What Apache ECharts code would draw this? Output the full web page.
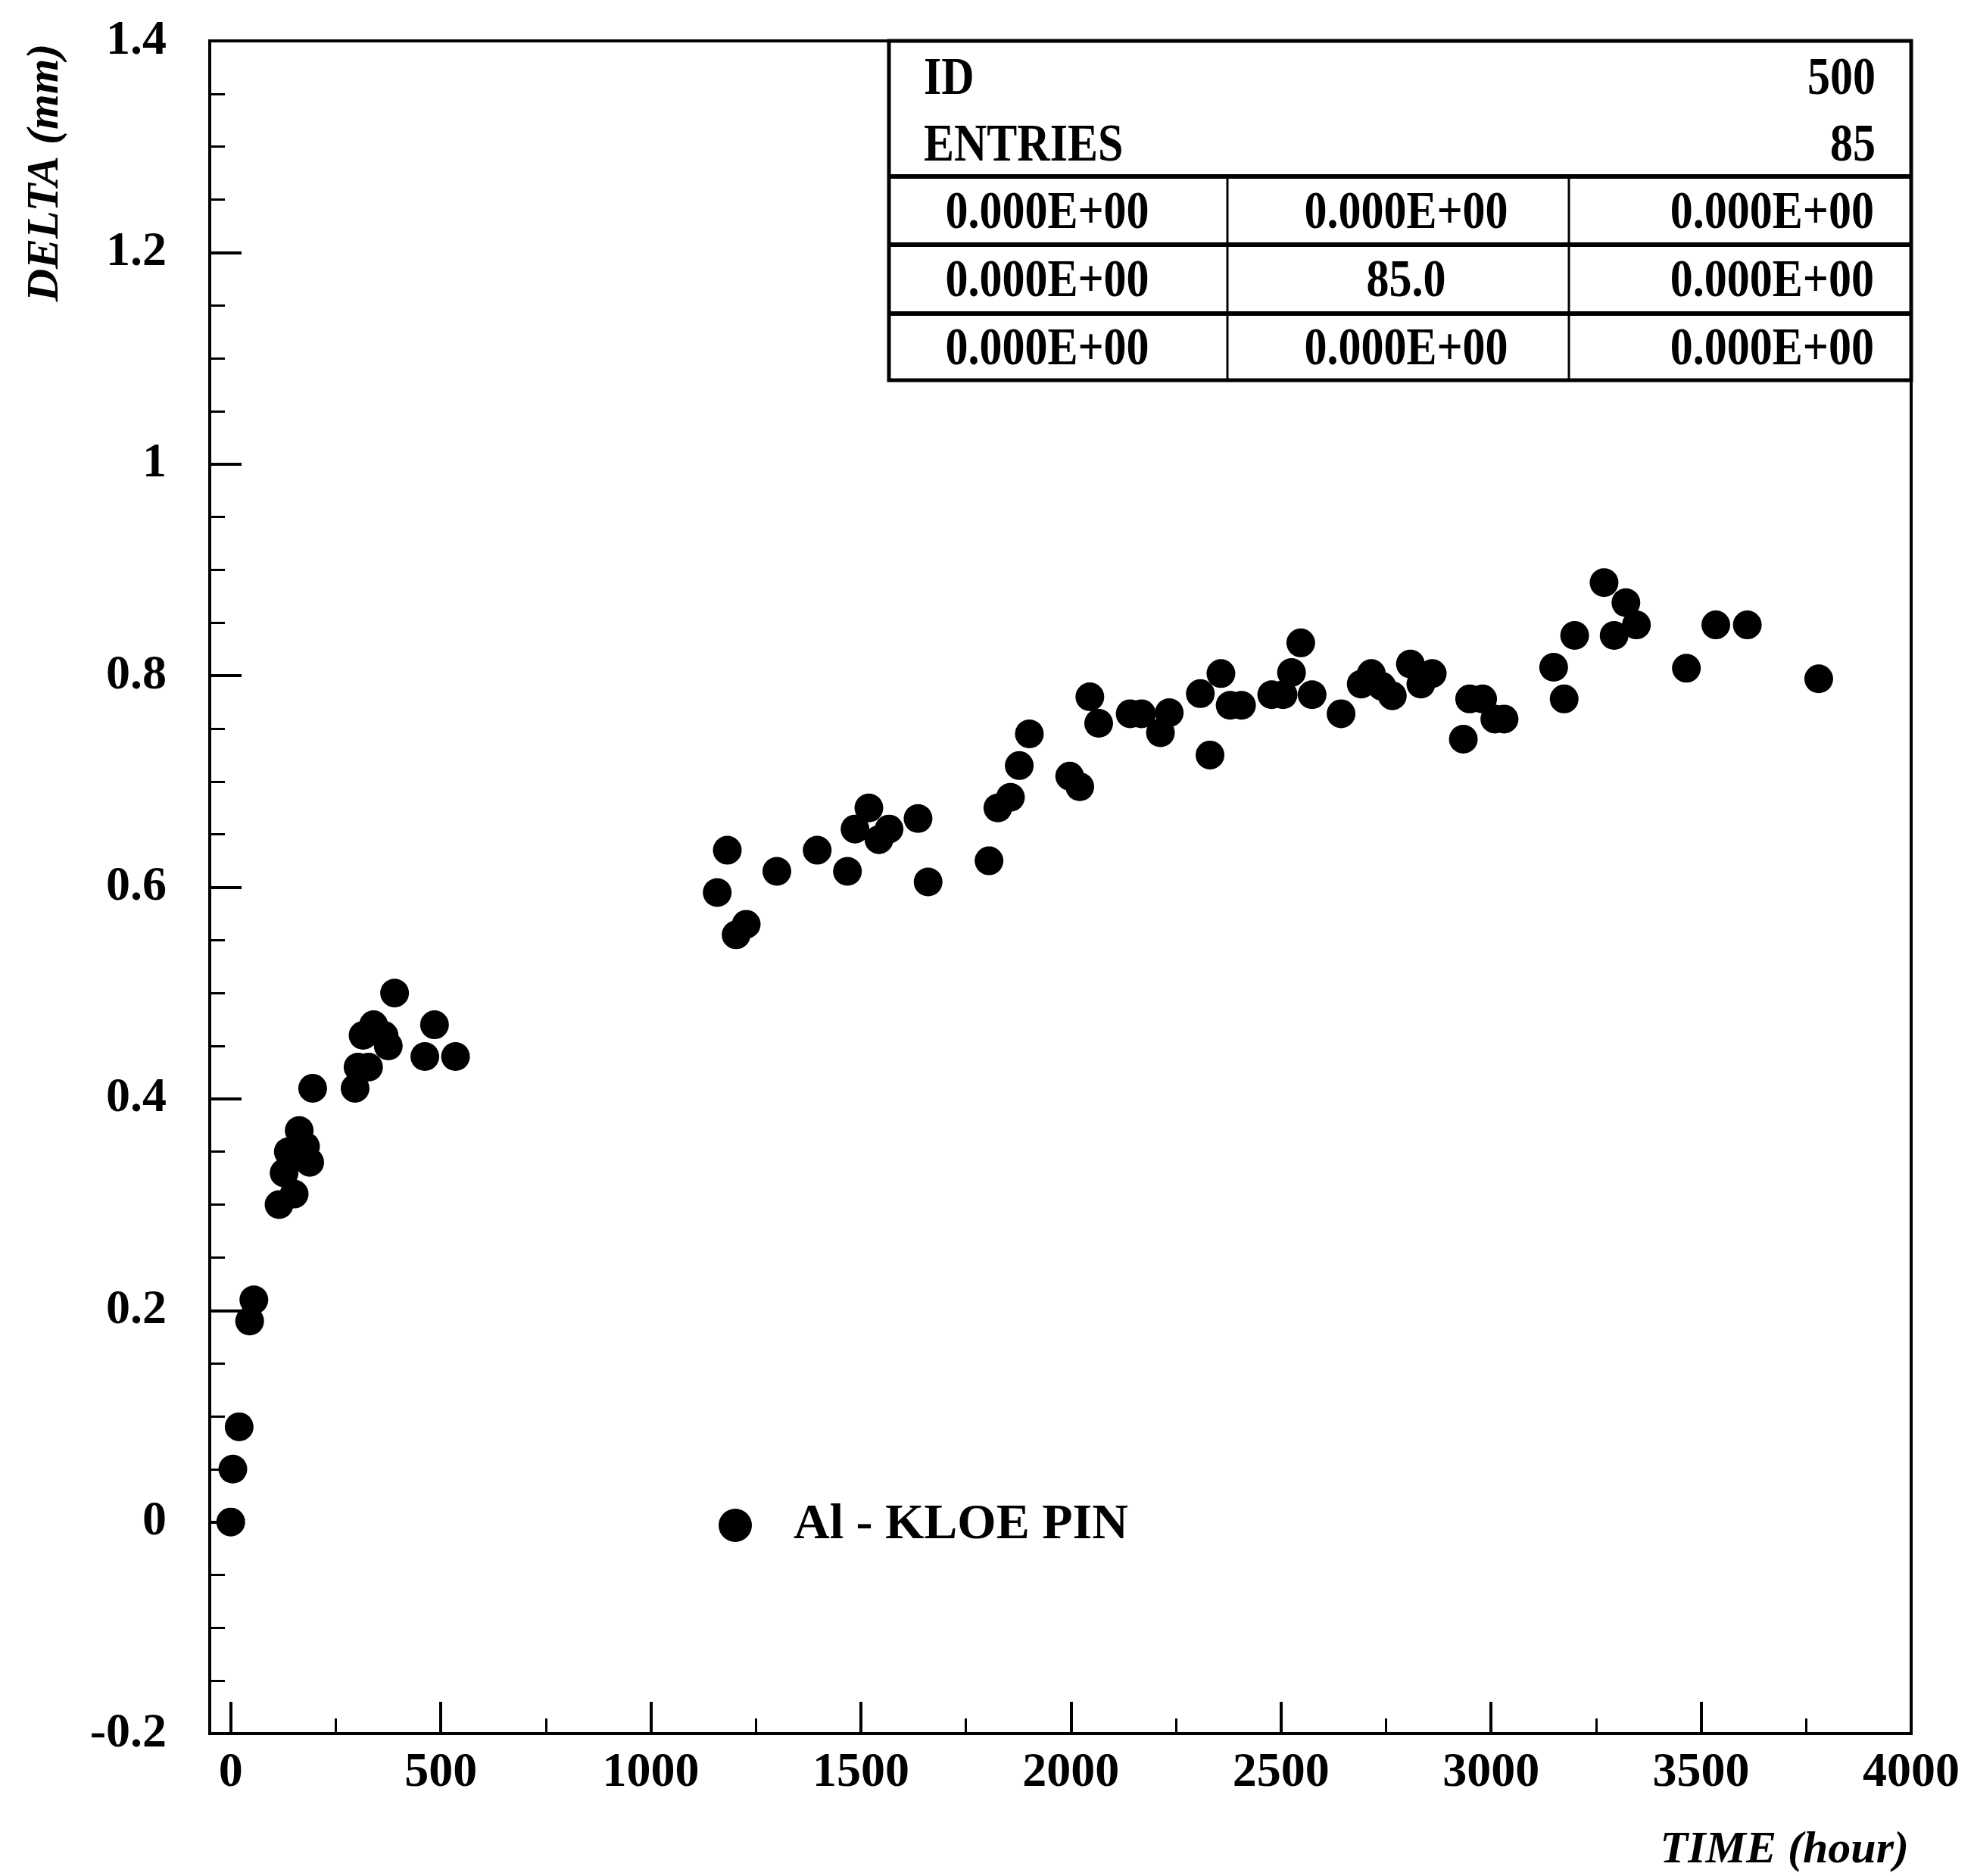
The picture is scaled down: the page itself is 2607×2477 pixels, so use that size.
<!DOCTYPE html>
<html>
<head>
<meta charset="utf-8">
<title>DELTA vs TIME — Al - KLOE PIN</title>
<script src="https://cdn.jsdelivr.net/npm/echarts@6/dist/echarts.min.js"></script>
<style>
  html, body { margin: 0; padding: 0; background: #fff; }
  #chart { width: 2607px; height: 2477px; }
</style>
</head>
<body>
<div id="chart"></div>
<script>
// Elongation of the aluminium KLOE pin versus time
const timeHours = [
  0, 5, 20, 45, 55, 115, 127, 137, 151, 163, 178, 188, 195,
  296, 303, 328, 315, 340, 365, 375, 390, 462, 485, 535,
  1158, 1182, 1203, 1227, 1300, 1396, 1468, 1486, 1519, 1543, 1567, 1636, 1660,
  1805, 1826, 1856, 1877, 1901, 1997, 2021, 2045, 2066,
  2141, 2168, 2213, 2234, 2308, 2331, 2357, 2379, 2406, 2478, 2505, 2525, 2547, 2574,
  2643, 2691, 2715, 2740, 2765, 2808, 2833, 2860,
  2934, 2949, 2980, 3009, 3031, 3149, 3174, 3199, 3269, 3293, 3321, 3346,
  3465, 3535, 3610, 3780
];
const deltaMm = [
  0.00, 0.05, 0.09, 0.19, 0.21, 0.30, 0.33, 0.35, 0.31, 0.37, 0.355, 0.34, 0.41,
  0.41, 0.43, 0.43, 0.46, 0.47, 0.46, 0.45, 0.50, 0.44, 0.47, 0.44,
  0.595, 0.635, 0.555, 0.565, 0.615, 0.635, 0.615, 0.655, 0.675, 0.645, 0.655, 0.665, 0.605,
  0.625, 0.675, 0.685, 0.715, 0.745, 0.705, 0.695, 0.78, 0.755,
  0.764, 0.764, 0.746, 0.765, 0.783, 0.725, 0.802, 0.772, 0.772, 0.782, 0.782, 0.803, 0.831, 0.782,
  0.764, 0.792, 0.802, 0.79, 0.781, 0.811, 0.792, 0.802,
  0.74, 0.778, 0.778, 0.759, 0.759, 0.808, 0.778, 0.838, 0.888, 0.838, 0.869, 0.848,
  0.807, 0.848, 0.848, 0.797
];

// Axis ticks
const xMajorTicks = [0, 500, 1000, 1500, 2000, 2500, 3000, 3500, 4000];
const xMinorTicks = [250, 750, 1250, 1750, 2250, 2750, 3250, 3750];

// Statistics box
const statsHeader = [['ID', '500'], ['ENTRIES', '85']];
const statsCells = [
  ['0.000E+00', '0.000E+00', '0.000E+00'],
  ['0.000E+00', '85.0', '0.000E+00'],
  ['0.000E+00', '0.000E+00', '0.000E+00']
];

const seriesName = 'Al - KLOE PIN';
const xTitle = 'TIME (hour)';
const yTitle = 'DELTA (mm)';

const FONT = 'Liberation Serif';
const points = timeHours.map((t, i) => [t, deltaMm[i]]);

// Stats box frame geometry (pixels)
const box = { x0: 1174, x1: 2524, y0: 54, rows: [233, 323, 414, 502], cols: [1621, 2072] };

const graphics = [];
graphics.push({
  type: 'rect', shape: { x: box.x0, y: box.y0, width: box.x1 - box.x0, height: box.rows[3] - box.y0 },
  style: { fill: '#fff', stroke: '#000', lineWidth: 5 }, z: 50
});
box.rows.slice(0, 3).forEach(y => graphics.push({
  type: 'line', shape: { x1: box.x0, y1: y, x2: box.x1, y2: y },
  style: { stroke: '#000', lineWidth: 6 }, z: 51
}));
box.cols.forEach(x => graphics.push({
  type: 'line', shape: { x1: x, y1: box.rows[0], x2: x, y2: box.rows[3] },
  style: { stroke: '#000', lineWidth: 3 }, z: 51
}));
const cellText = (text, x, y, align) => ({
  type: 'text', x: x, y: y, scaleY: 1.15, z: 52,
  style: { text: text, fill: '#000', font: 'bold 60px "' + FONT + '"', textAlign: align, textVerticalAlign: 'middle' }
});
const headerY = [106, 194];
statsHeader.forEach((row, i) => {
  graphics.push(cellText(row[0], 1220, headerY[i], 'left'));
  graphics.push(cellText(row[1], 2477, headerY[i], 'right'));
});
const rowY = [283, 373, 463];
statsCells.forEach((row, i) => {
  graphics.push(cellText(row[0], 1383, rowY[i], 'center'));
  graphics.push(cellText(row[1], 1857, rowY[i], 'center'));
  graphics.push(cellText(row[2], 2475, rowY[i], 'right'));
});

// Axis titles
graphics.push({
  type: 'text', x: 2521, y: 2443, z: 52,
  style: { text: xTitle, fill: '#000', font: 'italic bold 60px "' + FONT + '"', textAlign: 'right', textVerticalAlign: 'middle' }
});
graphics.push({
  type: 'text', x: 60, y: 228, rotation: Math.PI / 2, z: 52,
  style: { text: yTitle, fill: '#000', font: 'italic bold 60px "' + FONT + '"', textAlign: 'center', textVerticalAlign: 'middle' }
});

const chart = echarts.init(document.getElementById('chart'), null, { renderer: 'canvas' });
chart.setOption({
  animation: false,
  backgroundColor: '#fff',
  textStyle: { fontFamily: FONT },
  grid: {
    left: 277, right: 83, top: 54, bottom: 188,
    show: true, borderColor: '#000', borderWidth: 4, backgroundColor: 'transparent'
  },
  legend: {
    data: [{ name: seriesName, icon: 'circle' }],
    left: 949, top: 1981, padding: 0,
    itemWidth: 44, itemHeight: 44,
    selectedMode: false,
    textStyle: { fontFamily: FONT, fontWeight: 'bold', fontSize: 66, color: '#000', padding: [0, 0, 0, 50] }
  },
  xAxis: [
    {
      type: 'value', min: -50, max: 4000, position: 'bottom',
      axisLine: { show: true, onZero: false, lineStyle: { color: '#000', width: 4 } },
      axisTick: { show: true, inside: true, length: 42, customValues: xMajorTicks, lineStyle: { color: '#000', width: 4 } },
      axisLabel: {
        show: true, customValues: xMajorTicks, margin: 20,
        formatter: v => String(v),
        fontFamily: FONT, fontWeight: 'bold', fontSize: 64, color: '#000'
      },
      splitLine: { show: false }
    },
    {
      type: 'value', min: -50, max: 4000, position: 'bottom', gridIndex: 0,
      axisLine: { show: false, onZero: false },
      axisTick: { show: true, inside: true, length: 20, customValues: xMinorTicks, lineStyle: { color: '#000', width: 3 } },
      axisLabel: { show: false },
      splitLine: { show: false }
    }
  ],
  yAxis: {
    type: 'value', min: -0.2, max: 1.4, interval: 0.2,
    axisLine: { show: true, onZero: false, lineStyle: { color: '#000', width: 4 } },
    axisTick: { show: true, inside: true, length: 42, lineStyle: { color: '#000', width: 4 } },
    minorTick: { show: true, splitNumber: 4, length: 20, lineStyle: { color: '#000', width: 3 } },
    axisLabel: { margin: 57, formatter: v => String(+v.toFixed(2)), fontFamily: FONT, fontWeight: 'bold', fontSize: 64, color: '#000' },
    splitLine: { show: false }
  },
  series: [{
    name: seriesName,
    type: 'scatter',
    xAxisIndex: 0,
    data: points,
    symbol: 'circle',
    symbolSize: 38,
    itemStyle: { color: '#000', opacity: 1 },
    emphasis: { disabled: true }
  }],
  graphic: graphics
});
</script>
</body>
</html>
